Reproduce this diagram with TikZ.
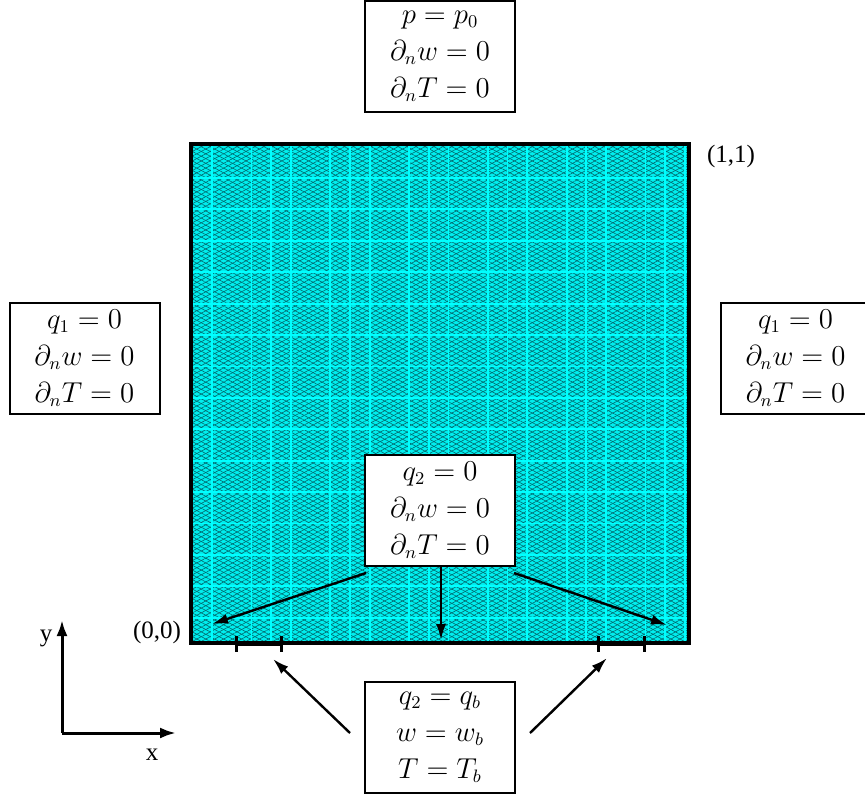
\documentclass[tikz,border=0pt]{standalone}
\usepackage{fontspec}
\newfontfamily\timesf{Liberation Serif}
\usetikzlibrary{arrows.meta,patterns.meta,calc}
\definecolor{meshbase}{RGB}{0,238,238}
\definecolor{meshdark}{RGB}{0,105,110}
\definecolor{meshline}{RGB}{0,255,255}
\begin{document}
\begin{tikzpicture}[x=0.5pt,y=-0.5pt,
  bcbox/.style={draw, line width=1pt, fill=white, minimum width=75pt, minimum height=55.5pt,
    inner sep=0pt, align=center, font=\fontsize{13.5}{18.5}\selectfont},
  lbl/.style={inner sep=0pt, font=\timesf\fontsize{12.5}{14}\selectfont},
  arr/.style={line width=1.2pt, -{Latex[length=8pt,width=5pt]}},
  axarr/.style={line width=1.5pt, -{Latex[length=8pt,width=5.5pt]}},
  tick/.style={line width=1.5pt}]
\useasboundingbox (0,0) rectangle (865,796);
% domain
\fill[meshbase] (190,143) rectangle (690,644);
\fill[pattern={Lines[angle=28,distance=2.1pt,line width=0.3pt]}, pattern color=meshdark] (190,143) rectangle (690,644);
\fill[pattern={Lines[angle=-28,distance=2.1pt,line width=0.3pt]}, pattern color=meshdark] (190,143) rectangle (690,644);
\foreach \k in {0,...,24}{
  \pgfmathtruncatemacro{\m}{mod(\k,4)}
  \ifnum\m=1\relax\else
    \draw[meshline, line width=0.9pt] ({212+19.7*\k},145) -- ({212+19.7*\k},642);
  \fi}
\foreach \k in {1,...,15}{
  \draw[meshline, line width=0.9pt] (192,{146.6+31.4*\k}) -- (688,{146.6+31.4*\k});}
\node[draw, line width=1.75pt, minimum width=249pt, minimum height=249.5pt, inner sep=0pt] (dom) at (440,393.5) {};
% boxes
\node[bcbox] (top) at (440,56.5) {$p=p_0$\\$\partial_n w=0$\\$\partial_n T=0$};
\node[bcbox] (left) at (84.5,358.5) {$q_1=0$\\$\partial_n w=0$\\$\partial_n T=0$};
\node[bcbox] (right) at (795.5,358.5) {$q_1=0$\\$\partial_n w=0$\\$\partial_n T=0$};
\node[bcbox] (mid) at (440,510) {$q_2=0$\\$\partial_n w=0$\\$\partial_n T=0$};
\node[bcbox] (bot) at (440,737.5) {$q_2=q_b$\\$w=w_b$\\$T=T_b$};
% corner labels
\node[lbl] (c11) at (731,156) {(1,1)};
\node[lbl] (c00) at (157,632) {(0,0)};
% arrows from middle box
\coordinate (mL) at (366,573);
\coordinate (mR) at (514,573);
\coordinate (tL) at (212,624);
\coordinate (tR) at (667,625);
\coordinate (tM) at (441,640);
\draw[arr] (mL) -- (tL);
\draw[arr] (mR) -- (tR);
\draw[arr] (mid.south -| tM) -- (tM);
% inlet segments on bottom
\coordinate (a1) at (236,644);
\coordinate (a2) at (281,644);
\coordinate (b1) at (598,644);
\coordinate (b2) at (644,644);
\draw[line width=2.2pt] (a1) -- (a2);
\draw[line width=2.2pt] (b1) -- (b2);
\foreach \p in {a1,a2,b1,b2}{\draw[tick] ($(\p)+(0,-8)$) -- ($(\p)+(0,8)$);}
% arrows from bottom box
\coordinate (sL) at (350,733);
\coordinate (sR) at (530,733);
\coordinate (eL) at (273,659);
\coordinate (eR) at (607,658);
\draw[arr] (sL) -- (eL);
\draw[arr] (sR) -- (eR);
% axes
\coordinate (o) at (62,733);
\coordinate (ya) at (62,620);
\coordinate (xa) at (176,733);
\draw[axarr] (o) -- (ya);
\draw[axarr] (o) -- (xa);
\node[lbl] (ylab) at (46,638) {y};
\node[lbl] (xlab) at (152,755) {x};
\end{tikzpicture}
\end{document}
